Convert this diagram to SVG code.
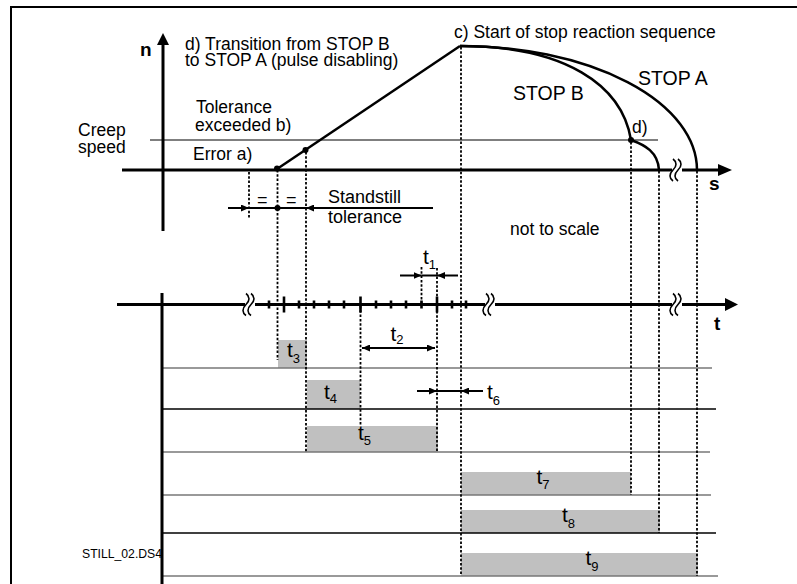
<svg xmlns="http://www.w3.org/2000/svg" width="797" height="584" viewBox="0 0 797 584">
<style>
text{font-family:"Liberation Sans",Arial,sans-serif;fill:#000}
.f{font-size:17.5px}
.big{font-size:19.5px}
.st{font-size:18px}
.b{font-weight:bold;font-size:19px}
.t{font-size:21px}
.sub{font-size:13px}
.ax{stroke:#000;stroke-width:3;fill:none}
.cv{stroke:#000;stroke-width:2.5;fill:none}
.dash{stroke:#000;stroke-width:1.8;stroke-dasharray:2.5 1.8;fill:none}
.thin{stroke:#000;stroke-width:1.2;fill:none}
.lane{stroke-width:1.4;fill:none}
.g{stroke:#777}
.k{stroke:#000}
.bar{fill:#c0c0c0}
.arr{stroke:#000;stroke-width:2;fill:none}
.brk{stroke:#000;stroke-width:1.6;fill:none}
</style>
<defs>
<marker id="ah" markerUnits="userSpaceOnUse" markerWidth="8" markerHeight="7" refX="8" refY="3.5" orient="auto">
<path d="M0,0 L8,3.5 L0,7 z" fill="#000"/>
</marker>
<g id="wave">
<rect x="-5" y="-5" width="10" height="10" fill="#fff"/>
<path class="brk" d="M-4,-11 c4,3 4,7 0,11 c-4,4 -4,8 0,11"/>
<path class="brk" d="M1,-11 c4,3 4,7 0,11 c-4,4 -4,8 0,11"/>
</g>
</defs>
<rect width="797" height="584" fill="#fff"/>

<g id="frame">
<path d="M11,584 L11,7 L797,7" stroke="#000" stroke-width="2" fill="none"/>
</g>

<g id="bars">
<rect class="bar" x="278" y="340" width="29" height="28"/>
<rect class="bar" x="307" y="380" width="53" height="29"/>
<rect class="bar" x="307" y="426" width="131" height="26"/>
<rect class="bar" x="461" y="472" width="170" height="23"/>
<rect class="bar" x="461" y="510" width="199" height="23"/>
<rect class="bar" x="461" y="553" width="237" height="23"/>
</g>

<g id="lanes">
<line class="lane g" x1="162" y1="368" x2="712" y2="368"/>
<line class="lane k" x1="162" y1="409" x2="716" y2="409"/>
<line class="lane g" x1="162" y1="452" x2="710" y2="452"/>
<line class="lane g" x1="162" y1="495" x2="711" y2="495"/>
<line class="lane k" x1="162" y1="533" x2="716" y2="533"/>
<line class="lane g" x1="162" y1="576" x2="718" y2="576"/>
</g>

<g id="guides">
<line class="dash" x1="249" y1="172" x2="249" y2="219"/>
<line class="dash" x1="277.5" y1="170" x2="277.5" y2="360"/>
<line class="dash" x1="306" y1="152" x2="306" y2="452"/>
<line class="dash" x1="360.5" y1="306" x2="360.5" y2="426"/>
<line class="dash" x1="421.5" y1="267" x2="421.5" y2="303"/>
<line class="dash" x1="437" y1="268" x2="437" y2="452"/>
<line class="dash" x1="461" y1="47" x2="461" y2="576"/>
<line class="dash" x1="631" y1="142" x2="631" y2="495"/>
<line class="dash" x1="659" y1="171" x2="659" y2="533"/>
<line class="dash" x1="697" y1="171" x2="697" y2="576"/>
</g>

<g id="speed-plot">
<line class="thin" x1="150" y1="140" x2="658" y2="140"/>
<line class="ax" x1="122" y1="170" x2="720" y2="170"/>
<polygon points="718,164 732,170 718,176" fill="#000"/>
<line class="ax" x1="163" y1="231" x2="163" y2="44"/>
<polygon points="157,45 163,33 169,45" fill="#000"/>
<use href="#wave" x="677" y="170"/>
<path class="cv" d="M277,169 L460,46"/>
<path class="cv" d="M460,46 A236 124 0 0 1 697,170"/>
<path class="cv" d="M460,46 C565,46 622,85 631,140 C645,145 658,152 659,170"/>
<circle cx="277" cy="168.5" r="3" fill="#000"/>
<circle cx="305.5" cy="150" r="3" fill="#000"/>
<circle cx="631" cy="140" r="3" fill="#000"/>
</g>

<g id="time-axis">
<line class="ax" x1="117" y1="304.5" x2="727" y2="304.5"/>
<polygon points="725,298 738,304.5 725,311" fill="#000"/>
<line class="ax" x1="162" y1="293" x2="162" y2="584"/>
<g stroke="#000" stroke-width="2.6">
<line x1="269" y1="300.5" x2="269" y2="308.5"/>
<line x1="299" y1="300.5" x2="299" y2="308.5"/>
<line x1="314" y1="300.5" x2="314" y2="308.5"/>
<line x1="329" y1="300.5" x2="329" y2="308.5"/>
<line x1="344" y1="300.5" x2="344" y2="308.5"/>
<line x1="376" y1="300.5" x2="376" y2="308.5"/>
<line x1="391" y1="300.5" x2="391" y2="308.5"/>
<line x1="406" y1="300.5" x2="406" y2="308.5"/>
<line x1="421.5" y1="300.5" x2="421.5" y2="308.5"/>
<line x1="452" y1="300.5" x2="452" y2="308.5"/>
<line x1="466" y1="300.5" x2="466" y2="308.5"/>
<line x1="284" y1="296.5" x2="284" y2="312.5"/>
<line x1="360.5" y1="296.5" x2="360.5" y2="312.5"/>
<line x1="437" y1="296.5" x2="437" y2="312.5"/>
</g>
<use href="#wave" x="250" y="304.5"/>
<use href="#wave" x="490" y="304.5"/>
<use href="#wave" x="677" y="304.5"/>
</g>

<g id="connectors">
<line class="arr" x1="228" y1="208" x2="249" y2="208" marker-end="url(#ah)"/>
<line class="arr" x1="249" y1="208" x2="306" y2="208"/>
<line class="arr" x1="433" y1="208" x2="306" y2="208" marker-end="url(#ah)"/>
<circle cx="277.5" cy="208" r="3" fill="#000"/>
<line class="arr" x1="400" y1="275.5" x2="421.5" y2="275.5" marker-end="url(#ah)"/>
<line class="arr" x1="421.5" y1="275.5" x2="437" y2="275.5"/>
<line class="arr" x1="458" y1="275.5" x2="437" y2="275.5" marker-end="url(#ah)"/>
<line class="arr" x1="399" y1="348" x2="362" y2="348" marker-end="url(#ah)"/>
<line class="arr" x1="399" y1="348" x2="435" y2="348" marker-end="url(#ah)"/>
<line class="arr" x1="417" y1="391" x2="437" y2="391" marker-end="url(#ah)"/>
<line class="arr" x1="437" y1="391" x2="461" y2="391"/>
<line class="arr" x1="483" y1="391" x2="461" y2="391" marker-end="url(#ah)"/>
</g>

<g id="labels">
<text class="b" x="140" y="56">n</text>
<text class="b" x="709" y="190">s</text>
<text class="b" x="714" y="330">t</text>
<text class="f" x="185" y="50">d) Transition from STOP B<tspan x="185" dy="16">to STOP A (pulse disabling)</tspan></text>
<text class="f" x="454" y="38">c)  Start of stop reaction sequence</text>
<text class="big" x="638" y="85">STOP A</text>
<text class="big" x="513" y="100">STOP B</text>
<text class="f" x="196" y="113">Tolerance<tspan x="195" dy="18">exceeded b)</tspan></text>
<text class="f" x="78" y="136">Creep<tspan x="78" dy="17">speed</tspan></text>
<text class="f" x="193" y="160">Error a)</text>
<text class="f" x="632" y="133">d)</text>
<text class="f" x="510" y="235">not to scale</text>
<text class="st" x="257" y="206">=</text>
<text class="st" x="286" y="206">=</text>
<text class="st" x="328" y="202.5">Standstill<tspan x="328" dy="20">tolerance</tspan></text>
<text x="82" y="558" font-size="13" textLength="80" lengthAdjust="spacingAndGlyphs">STILL_02.DS4</text>
<text class="t" x="423" y="264">t<tspan class="sub" dy="5">1</tspan></text>
<text class="t" x="390.5" y="340.5">t<tspan class="sub" dy="3">2</tspan></text>
<text class="t" x="287" y="356.5">t<tspan class="sub" dy="6">3</tspan></text>
<text class="t" x="324" y="399">t<tspan class="sub" dy="4">4</tspan></text>
<text class="t" x="358" y="440">t<tspan class="sub" dy="5">5</tspan></text>
<text class="t" x="487" y="399">t<tspan class="sub" dy="6">6</tspan></text>
<text class="t" x="536.5" y="484">t<tspan class="sub" dy="5">7</tspan></text>
<text class="t" x="562" y="521.5">t<tspan class="sub" dy="6">8</tspan></text>
<text class="t" x="585.5" y="565">t<tspan class="sub" dy="6">9</tspan></text>
</g>
</svg>
